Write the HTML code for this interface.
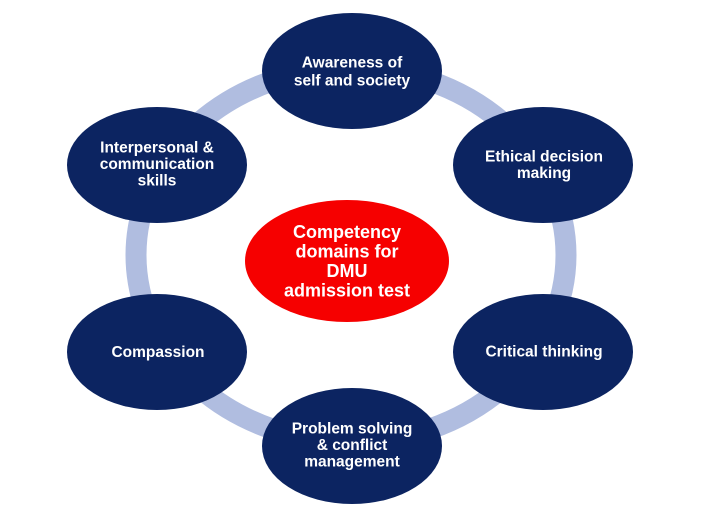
<!DOCTYPE html>
<html>
<head>
<meta charset="utf-8">
<style>
  html, body { margin: 0; padding: 0; background: #ffffff; }
  svg { display: block; }
  text { font-family: "Liberation Sans", Arial, sans-serif; font-weight: bold; fill: #ffffff; }
</style>
</head>
<body>
<svg width="727" height="518" viewBox="0 0 727 518" xmlns="http://www.w3.org/2000/svg">
  <rect width="727" height="518" fill="#ffffff"/>
  <!-- ring -->
  <ellipse cx="351" cy="255" rx="215" ry="187" fill="none" stroke="#b0bde0" stroke-width="21"/>

  <!-- outer nodes -->
  <g fill="#0c2461">
    <ellipse cx="352" cy="71" rx="90" ry="58"/>
    <ellipse cx="157" cy="165" rx="90" ry="58"/>
    <ellipse cx="543" cy="165" rx="90" ry="58"/>
    <ellipse cx="157" cy="352" rx="90" ry="58"/>
    <ellipse cx="543" cy="352" rx="90" ry="58"/>
    <ellipse cx="352" cy="446" rx="90" ry="58"/>
  </g>
  <!-- center -->
  <ellipse cx="347" cy="261" rx="102" ry="61" fill="#f60000"/>

  <g font-size="15.5" text-anchor="middle" dominant-baseline="central">
    <text x="352" y="63">Awareness of</text>
    <text x="352" y="81">self and society</text>

    <text x="157" y="148">Interpersonal &amp;</text>
    <text x="157" y="164.5">communication</text>
    <text x="157" y="181">skills</text>

    <text x="544" y="157">Ethical decision</text>
    <text x="544" y="173.5">making</text>

    <text x="158" y="352.5">Compassion</text>

    <text x="544" y="352">Critical thinking</text>

    <text x="352" y="429">Problem solving</text>
    <text x="352" y="445.5">&amp; conflict</text>
    <text x="352" y="462">management</text>
  </g>

  <g font-size="18" text-anchor="middle" dominant-baseline="central">
    <text x="347" y="232">Competency</text>
    <text x="347" y="251.5">domains for</text>
    <text x="347" y="271">DMU</text>
    <text x="347" y="290.5">admission test</text>
  </g>
</svg>
</body>
</html>
